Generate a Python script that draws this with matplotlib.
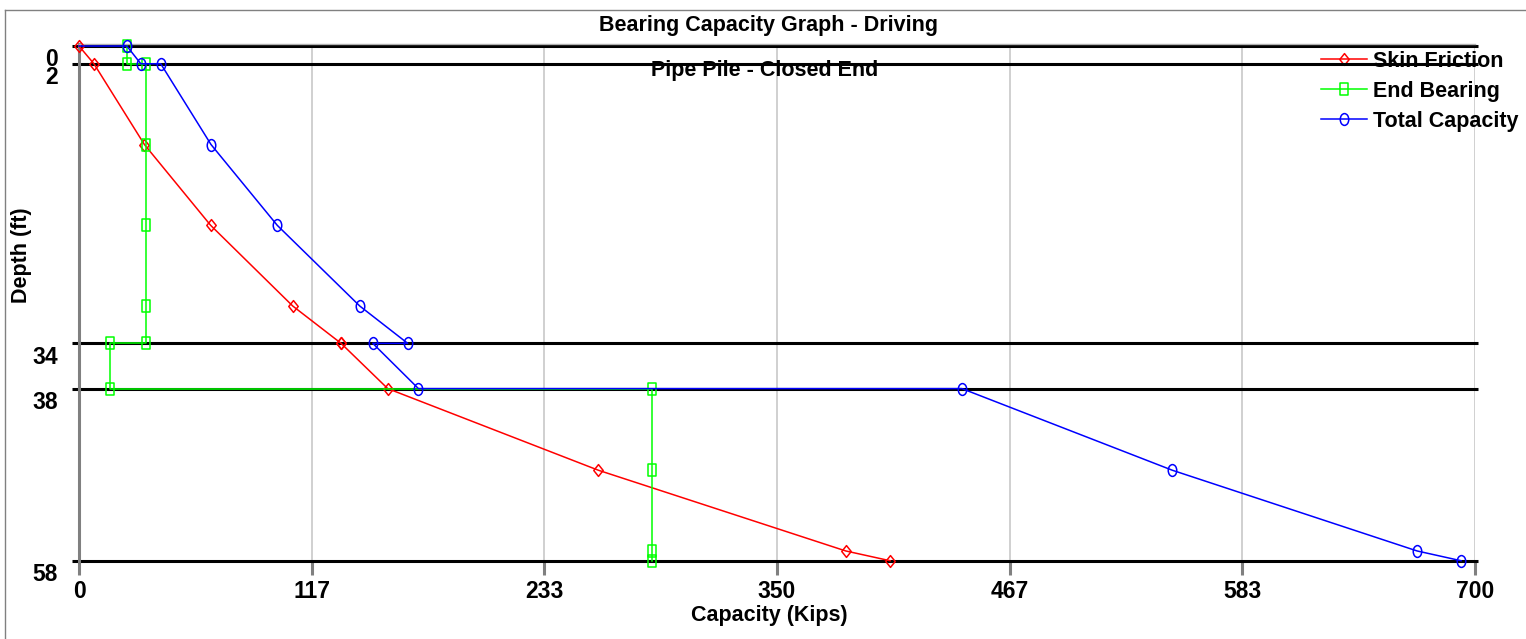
import matplotlib
matplotlib.use("Agg")
import matplotlib.pyplot as plt
from matplotlib.path import Path
from matplotlib.lines import Line2D
from matplotlib.transforms import Affine2D

plt.rcParams['font.family'] = ['Liberation Sans', 'DejaVu Sans']
plt.rcParams['font.weight'] = 'bold'

# soil layer boundaries (ft) and the labels shown for them
layer_depth = [0, 2, 33.5, 38.6, 58]
layer_label = ["0", "2", "34", "38", "58"]

skin_cap = [0, 7.5, 32.8, 66, 107.2, 131.4, 131.4, 154.8, 260.4, 384.5, 406.7]
skin_depth = [0, 2, 11.1, 20.2, 29.3, 33.5, 33.5, 38.6, 47.8, 56.9, 58]

end_cap = [24, 24, 33.4, 33.4, 33.4, 33.4, 33.4, 15.5, 15.5, 287.2, 287.2, 287.2, 287.2]
end_depth = [0, 2, 2, 11.1, 20.2, 29.3, 33.5, 33.5, 38.6, 38.6, 47.8, 56.9, 58]

total_cap = [0, 24, 31, 41, 66.2, 99.4, 140.8, 164.8, 147.3, 170.2, 442.7, 548.2, 671, 693]
total_depth = [0, 0, 2, 2, 11.1, 20.2, 29.3, 33.5, 33.5, 38.6, 38.6, 47.8, 56.9, 58]

x_ticks = [0, 116.67, 233.33, 350, 466.67, 583.33, 700]
x_labels = ["0", "117", "233", "350", "467", "583", "700"]

W, H = 1526, 639
fig = plt.figure(figsize=(W / 100, H / 100), dpi=100)
ax = fig.add_axes([79 / W, 1 - 561 / H, (1475 - 79) / W, (561 - 44) / H])

# hollow markers, a bit taller than wide like the original
diamond = Path([(0, 1), (0.8, 0), (0, -1), (-0.8, 0), (0, 1)], closed=True)
rect = Path([(-0.75, -1), (0.75, -1), (0.75, 1), (-0.75, 1), (-0.75, -1)], closed=True)
ellipse = Path.unit_circle().transformed(Affine2D().scale(0.72, 1))

ax.hlines(layer_depth, -3.5, 701.5, colors='black', lw=2.2, zorder=2, clip_on=False)

l1, = ax.plot(skin_cap, skin_depth, color='#ff0000', lw=1.1, marker=diamond, ms=8.5,
              mfc='none', mew=1.1, zorder=3, clip_on=False)
l2, = ax.plot(end_cap, end_depth, color='#00ff00', lw=1.1, marker=rect, ms=8.5,
              mfc='none', mew=1.1, zorder=4, clip_on=False)
l3, = ax.plot(total_cap, total_depth, color='#0000ff', lw=1.1, marker=ellipse, ms=8.5,
              mfc='none', mew=1.1, zorder=5, clip_on=False,
              markevery=list(range(1, len(total_cap))))

ax.set_xlim(0, 700)
ax.set_ylim(58.03, -0.23)
ax.set_xticks(x_ticks, x_labels)
ax.tick_params(axis='x', length=10, width=2.2, color='#808080', pad=4, labelsize=16.5)
ax.set_yticks([])
for d, lab in zip(layer_depth, layer_label):
    ax.annotate(lab, xy=(0, d), xycoords=ax.get_yaxis_transform(), xytext=(-15, -10),
                textcoords='offset points', ha='right', va='center', fontsize=16.5,
                fontweight='bold', annotation_clip=False)

ax.grid(axis='x', color='#c8c8c8', lw=1.2)
ax.set_axisbelow(True)
for s in ['right', 'bottom']:
    ax.spines[s].set_visible(False)
ax.spines['left'].set_color('#808080')
ax.spines['left'].set_linewidth(2.2)
ax.spines['top'].set_color('#b0b0b0')
ax.spines['top'].set_linewidth(1)

ax.text(0.491, 0.9478, "Pipe Pile - Closed End", transform=ax.transAxes, ha='center',
        va='center', fontsize=15.5, fontweight='bold', zorder=1)

leg = ax.legend([l1, l2, l3], ["Skin Friction", "End Bearing", "Total Capacity"],
                loc='upper left', bbox_to_anchor=(1321 / W, 1 - 51 / H),
                bbox_transform=fig.transFigure, frameon=False, fontsize=15.5,
                handlelength=2.15, handletextpad=0.28, labelspacing=0.41,
                borderpad=0, borderaxespad=0)
leg.set_zorder(1)

fig.text(769 / W, 1 - 25 / H, "Bearing Capacity Graph - Driving", ha='center', va='center',
         fontsize=15.5, fontweight='bold')
fig.text(769 / W, 1 - 615 / H, "Capacity (Kips)", ha='center', va='center',
         fontsize=15.5, fontweight='bold')
fig.text(22 / W, 1 - 255 / H, "Depth (ft)", rotation=90, ha='center', va='center',
         fontsize=15.5, fontweight='bold')

# thin frame round the picture
fig.add_artist(Line2D([5 / W, 5 / W], [0, 1 - 10 / H], color='#808080', lw=1))
fig.add_artist(Line2D([5 / W, 1], [1 - 10 / H, 1 - 10 / H], color='#808080', lw=1))

plt.savefig("out.png", dpi=100)
